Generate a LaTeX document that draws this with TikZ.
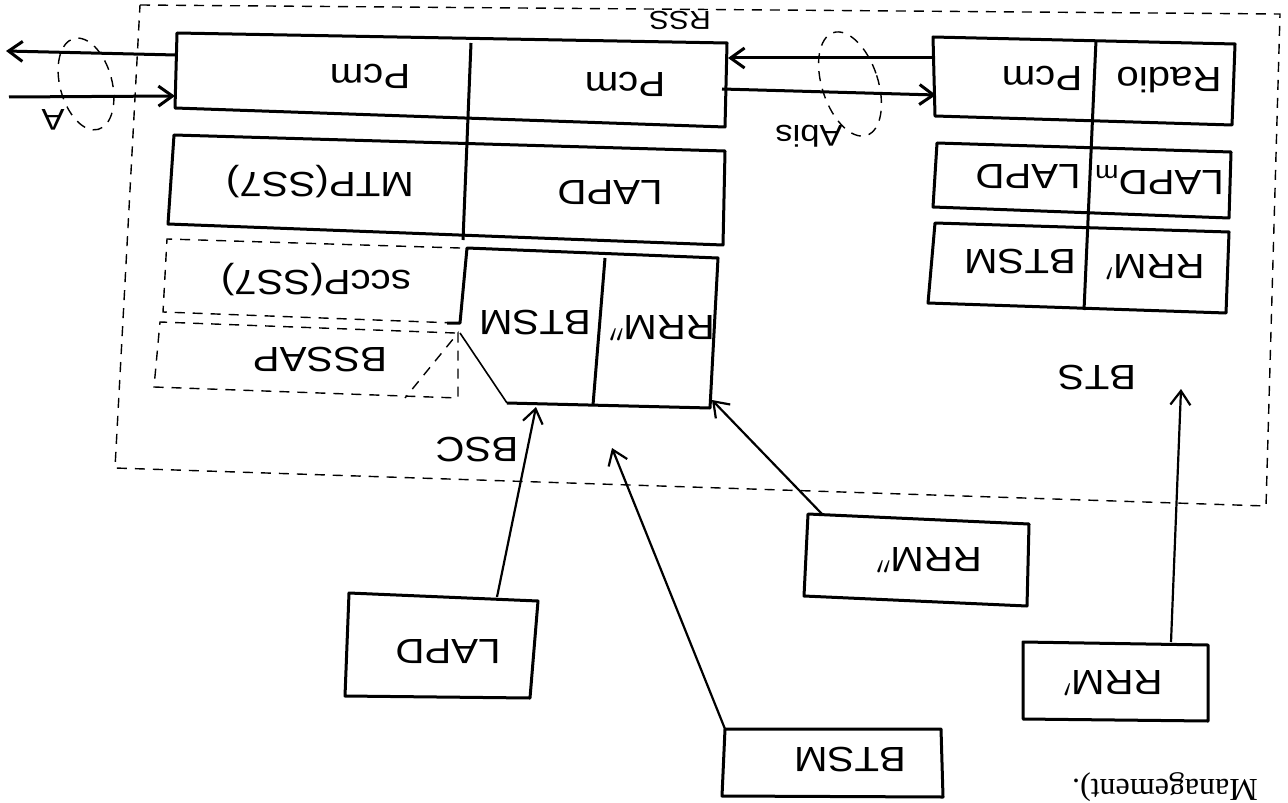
\documentclass[tikz,border=0pt]{standalone}
\usepackage{fontspec}
\newfontfamily\hand[FakeStretch=1.15]{Liberation Sans}
\newfontfamily\serifc{Liberation Serif}
\usetikzlibrary{arrows.meta}
\begin{document}
\begin{tikzpicture}[x=0.5pt,y=-0.5pt,
  box/.style={line width=1.5pt, line join=round},
  thin/.style={line width=0.8pt},
  dsh/.style={dash pattern=on 5pt off 4pt, line width=0.7pt},
  arr/.style={line width=1.5pt, -{Straight Barb[length=7pt,width=10pt]}},
  arrthin/.style={line width=1.1pt, -{Straight Barb[length=7pt,width=10pt]}},
  lbl/.style={rotate=180, font=\hand\fontsize{17.5}{20}\selectfont, inner sep=0pt},
  small/.style={rotate=180, font=\hand\fontsize{15}{17}\selectfont, inner sep=0pt}]
\useasboundingbox (0,0) rectangle (1288,802);
\fill[white] (0,0) rectangle (1288,802);
\clip (0,0) rectangle (1288,802);

% RSS boundary
\draw[dsh] (140,5) -- (1280,14) -- (1266,506) -- (115,468) -- cycle;
\node[rotate=180, font=\hand\fontsize{13}{15}\selectfont, inner sep=0pt] (rss) at (680,20) {RSS};

% ---- BSC ----
\draw[box] (177,33) -- (727,43) -- (725,127) -- (175,108) -- cycle;
\draw[box] (174,135) -- (725,151) -- (723,245) -- (168,224) -- cycle;
\draw[box] (471,43) -- (463,240);
\node[lbl] (pcm1) at (370,76) {Pcm};
\node[lbl] (pcm2) at (625,84) {Pcm};
\node[lbl] (mtp) at (320,182) {MTP(SS7)};
\node[lbl] (lapd1) at (610,193) {LAPD};

\draw[dsh] (460,248) -- (167,239) -- (163,312) -- (455,323);
\draw[dsh] (455,333) -- (160,322) -- (154,387) -- (458,398) -- (458,333) -- (405,398);
\node[lbl] (sccp) at (316,280) {sccP(SS7)};
\node[lbl] (bssap) at (320,360) {BSSAP};

\draw[box] (447,323) -- (460,323) -- (467,248) -- (718,258) -- (710,408) -- (507,403);
\draw[thin] (507,403) -- (460,333);
\draw[box] (605,258) -- (593,405);
\node[lbl] (btsm1) at (535,323) {BTSM};
\node[lbl] (rrm2a) at (662,328) {RRM$''$};
\node[lbl] (bsc) at (477,450) {BSC};

% ---- BTS ----
\draw[box] (933,37) -- (1235,44) -- (1232,125) -- (935,116) -- cycle;
\draw[box] (937,143) -- (1231,152) -- (1229,218) -- (933,207) -- cycle;
\draw[box] (935,223) -- (1229,232) -- (1226,313) -- (928,303) -- cycle;
\draw[box] (1096,40) -- (1084,310);
\node[lbl] (pcm3) at (1042,78) {Pcm};
\node[lbl] (radio) at (1169,80) {Radio};
\node[lbl] (lapd2) at (1028,177) {LAPD};
\node[lbl] (lapdm) at (1159,180) {LAPD\textsubscript{m}};
\node[lbl] (btsm2) at (1020,262) {BTSM};
\node[lbl] (rrm1a) at (1155,267) {RRM$'$};
\node[lbl] (bts) at (1097,378) {BTS};

% ---- interfaces ----
\coordinate (bscR1) at (728,58);
\coordinate (btsL1) at (935,58);
\coordinate (bscR2) at (722,89);
\coordinate (btsL2) at (936,95);
\draw[arr] (btsL1) -- (bscR1);
\draw[arr] (bscR2) -- (btsL2);
\draw[dsh, rotate around={18:(850,84)}] (850,84) ellipse [x radius=28, y radius=54];
\node[small] (abis) at (809,136) {Abis};

\coordinate (bscL1) at (176,55);
\coordinate (aout) at (6,51);
\coordinate (ain) at (9,97);
\coordinate (bscL2) at (175,96);
\draw[arr] (bscL1) -- (aout);
\draw[arr] (ain) -- (bscL2);
\draw[dsh, rotate around={15:(86,84)}] (86,84) ellipse [x radius=26, y radius=47];
\node[small] (alabel) at (53,120) {A};

% ---- management boxes ----
\draw[box] (349,593) -- (538,601) -- (530,698) -- (345,696) -- cycle;
\node[lbl] (lapd3) at (448,652) {LAPD};
\draw[box] (725,729) -- (941,729) -- (943,797) -- (722,796) -- cycle;
\node[lbl] (btsm3) at (850,760) {BTSM};
\draw[box] (808,514) -- (1029,524) -- (1027,606) -- (804,596) -- cycle;
\node[lbl] (rrm2b) at (929,560) {RRM$''$};
\draw[box] (1023,642) -- (1208,645) -- (1208,721) -- (1023,719) -- cycle;
\node[lbl] (rrm1b) at (1113,683) {RRM$'$};

\coordinate (lapdTop) at (497,597);
\coordinate (bscBot1) at (536,407);
\coordinate (btsmTop) at (725,729);
\coordinate (bscBot2) at (612,448);
\coordinate (rrm2Top) at (822,514);
\coordinate (bscBot3) at (712,400);
\coordinate (rrm1Top) at (1171,642);
\coordinate (btsBot) at (1181,389);
\draw[arrthin] (lapdTop) -- (bscBot1);
\draw[arrthin] (btsmTop) -- (bscBot2);
\draw[arrthin] (rrm2Top) -- (bscBot3);
\draw[arrthin] (rrm1Top) -- (btsBot);

\node[rotate=180, font=\serifc\fontsize{16}{18}\selectfont, anchor=base, inner sep=0pt] (mgmt) at (1165,779) {Management).};
\end{tikzpicture}
\end{document}
